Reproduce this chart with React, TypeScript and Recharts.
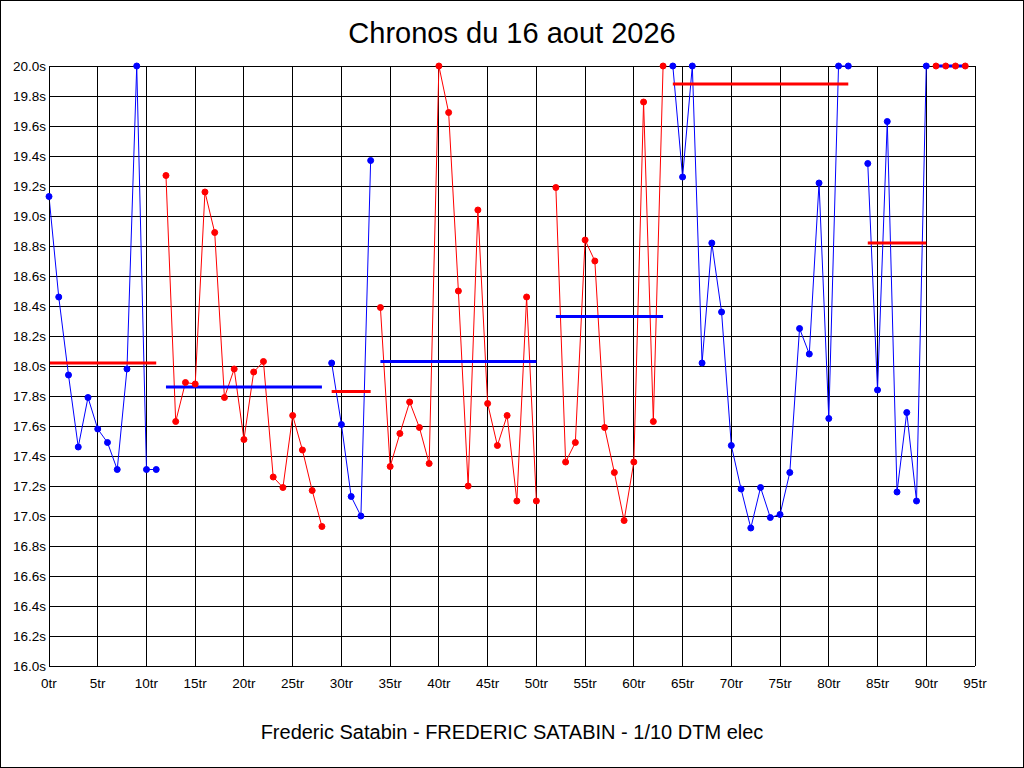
import { ComposedChart, Line, XAxis, YAxis, CartesianGrid } from "recharts";

const BLUE = "#0000ff";
const RED = "#ff0000";

// tick labels
const lapTicks = [0, 5, 10, 15, 20, 25, 30, 35, 40, 45, 50, 55, 60, 65, 70, 75, 80, 85, 90, 95];
const timeTicks = [16.0, 16.2, 16.4, 16.6, 16.8, 17.0, 17.2, 17.4, 17.6, 17.8, 18.0, 18.2, 18.4, 18.6, 18.8, 19.0, 19.2, 19.4, 19.6, 19.8, 20.0];

// lap times of each stint (seconds), first lap of the stint, and its average
const stint1Start = 0;
const stint1 = [19.13, 18.46, 17.94, 17.46, 17.79, 17.58, 17.49, 17.31, 17.98, 20.0, 17.31, 17.31];
const stint2Start = 12;
const stint2 = [19.27, 17.63, 17.89, 17.88, 19.16, 18.89, 17.79, 17.98, 17.51, 17.96, 18.03, 17.26, 17.19, 17.67, 17.44, 17.17, 16.93];
const stint3Start = 29;
const stint3 = [18.02, 17.61, 17.13, 17.0, 19.37];
const stint4Start = 34;
const stint4 = [18.39, 17.33, 17.55, 17.76, 17.59, 17.35, 20.0, 19.69, 18.5, 17.2, 19.04, 17.75, 17.47, 17.67, 17.1, 18.46, 17.1];
const stint5Start = 52;
const stint5 = [19.19, 17.36, 17.49, 18.84, 18.7, 17.59, 17.29, 16.97, 17.36, 19.76, 17.63, 20.0];
const stint6Start = 64;
const stint6 = [20.0, 19.26, 20.0, 18.02, 18.82, 18.36, 17.47, 17.18, 16.92, 17.19, 16.99, 17.01, 17.29, 18.25, 18.08, 19.22, 17.65, 20.0, 20.0];
const stint7Start = 84;
const stint7 = [19.35, 17.84, 19.63, 17.16, 17.69, 17.1, 20.0];
const stint8Start = 91;
const stint8 = [20.0, 20.0, 20.0, 20.0];

const stintStarts = [stint1Start, stint2Start, stint3Start, stint4Start, stint5Start, stint6Start, stint7Start, stint8Start];
const stintTimes = [stint1, stint2, stint3, stint4, stint5, stint6, stint7, stint8];
const stintColors = [BLUE, RED, BLUE, RED, RED, BLUE, BLUE, RED];
const stintAverages = [18.02, 17.86, 17.83, 18.03, 18.33, 19.88, 18.82, 20.0];

const stints = stintTimes.map((times, i) => ({
  color: stintColors[i],
  avgColor: stintColors[i] === BLUE ? RED : BLUE,
  points: times.map((t, j) => ({ lap: stintStarts[i] + j, t })),
  avg: [
    { lap: stintStarts[i], t: stintAverages[i] },
    { lap: stintStarts[i] + times.length - 1, t: stintAverages[i] },
  ],
}));

const font = '"Liberation Sans", Arial, sans-serif';
const tickStyle = { fill: "#000", fontSize: 13.5, fontFamily: font };

export default function App() {
  return (
    <div style={{ position: "absolute", left: 0, top: 0, width: 1024, height: 768, background: "#fff" }}>
      <div
        style={{
          position: "absolute",
          top: 19,
          width: 1024,
          textAlign: "center",
          fontFamily: font,
          fontSize: 29,
          lineHeight: "29px",
        }}
      >
        Chronos du 16 aout 2026
      </div>
      <ComposedChart width={1024} height={768} margin={{ top: 66, right: 4, left: 4, bottom: 72 }}>
        <CartesianGrid yAxisId="left" stroke="#000" strokeOpacity={1} shapeRendering="crispEdges" />
        <XAxis
          dataKey="lap"
          type="number"
          domain={[0, 95]}
          ticks={lapTicks}
          tickFormatter={(v) => `${v}tr`}
          tick={tickStyle}
          tickLine={false}
          tickSize={0}
          tickMargin={12}
          axisLine={{ stroke: "#000", shapeRendering: "crispEdges" }}
          height={30}
          interval={0}
        />
        <YAxis
          yAxisId="left"
          type="number"
          domain={[16, 20]}
          ticks={timeTicks}
          tickFormatter={(v) => `${v.toFixed(1)}s`}
          tick={tickStyle}
          tickLine={false}
          tickSize={0}
          tickMargin={3}
          axisLine={{ stroke: "#000", shapeRendering: "crispEdges" }}
          width={45}
          interval={0}
        />
        <YAxis
          yAxisId="right"
          orientation="right"
          type="number"
          domain={[16, 20]}
          ticks={timeTicks}
          tickFormatter={(v) => `${v.toFixed(1)}s`}
          tick={{ ...tickStyle, textAnchor: "start" }}
          tickLine={false}
          tickSize={0}
          tickMargin={5}
          axisLine={{ stroke: "#000", shapeRendering: "crispEdges" }}
          width={45}
          interval={0}
        />
        {stints.map((s, i) => (
          <Line
            key={`line${i}`}
            yAxisId="left"
            data={s.points}
            dataKey="t"
            type="linear"
            stroke={s.color}
            strokeWidth={1}
            dot={false}
            activeDot={false}
            isAnimationActive={false}
          />
        ))}
        {stints.map((s, i) => (
          <Line
            key={`avg${i}`}
            yAxisId="left"
            data={s.avg}
            dataKey="t"
            type="linear"
            stroke={s.avgColor}
            strokeWidth={3}
            dot={false}
            activeDot={false}
            isAnimationActive={false}
          />
        ))}
        {stints.map((s, i) => (
          <Line
            key={`dots${i}`}
            yAxisId="left"
            data={s.points}
            dataKey="t"
            stroke="none"
            dot={{ r: 3, fill: s.color, stroke: s.color, strokeWidth: 1 }}
            activeDot={false}
            isAnimationActive={false}
          />
        ))}
      </ComposedChart>
      <div
        style={{
          position: "absolute",
          top: 722,
          width: 1024,
          textAlign: "center",
          fontFamily: font,
          fontSize: 20,
          lineHeight: "20px",
        }}
      >
        Frederic Satabin - FREDERIC SATABIN - 1/10 DTM elec
      </div>
      <div
        style={{
          position: "absolute",
          left: 0,
          top: 0,
          width: 1024,
          height: 768,
          boxSizing: "border-box",
          border: "1px solid #000",
          pointerEvents: "none",
        }}
      />
    </div>
  );
}
